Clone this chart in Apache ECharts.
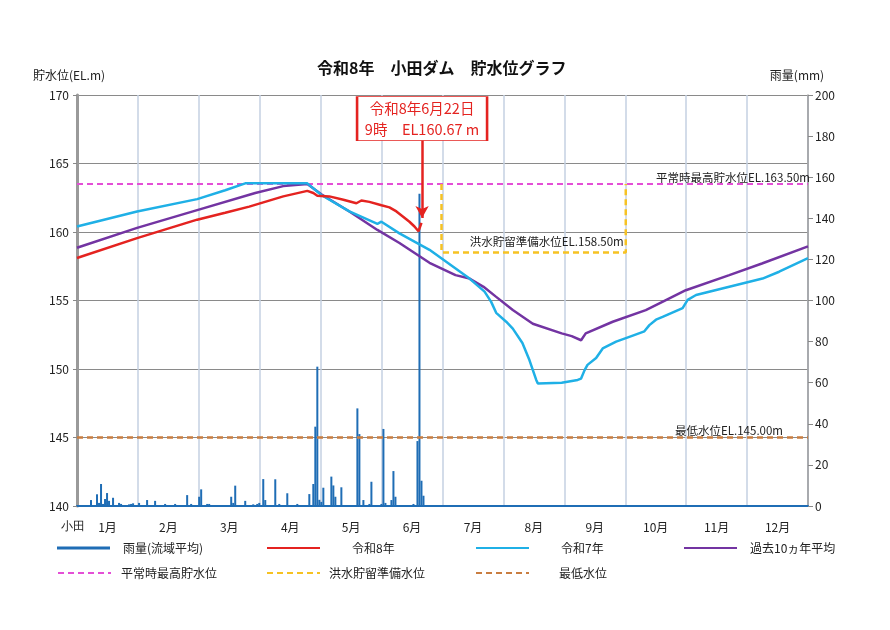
<!DOCTYPE html>
<html><head><meta charset="utf-8">
<script src="https://cdn.jsdelivr.net/npm/echarts@6/dist/echarts.min.js"></script>
<style>html,body{margin:0;padding:0;background:#fff}#c{width:890px;height:630px}</style>
</head><body><div id="c"></div>
<script>
const FONT = '"Noto Sans CJK JP", "Noto Sans", sans-serif';
const months = ['1月','2月','3月','4月','5月','6月','7月','8月','9月','10月','11月','12月'];

// rain (basin average, mm) by day of year
const rainDays = [7,10,11,12,13,14,15,16,18,21,22,26,27,28,31,35,39,44,49,55,57,61,62,65,66,77,78,79,84,88,90,91,93,94,99,101,105,110,116,118,119,120,121,122,123,127,128,129,132,140,141,143,146,147,152,153,154,157,158,159,168,170,171,172,173];
const rainMm   = [2.9,5.7,1.5,10.7,1,3.4,6.3,2.5,4,1.5,1,0.8,1,1.3,1.5,2.9,2.5,1,1,5.3,1,4.5,8.1,1,1,4.5,1.5,9.9,2.5,0.8,1,1.5,13.1,2.9,13,1,6.2,1,5.8,10.7,38.6,67.8,3,2,8.9,14.3,10,4.5,9.1,47.5,35,2.9,1,11.8,1,37.5,1.5,2.9,17,4.5,1,31.6,152,12.3,5];

// 令和8年
const r8Days  = [0,30,60,74,86,103,115,118,120,126,133,139.5,142,146,152,156,159.5,163,166,168.5,170.5,172];
const r8Level = [158.1,159.55,160.9,161.4,161.85,162.6,163.0,162.85,162.65,162.6,162.35,162.1,162.3,162.2,161.95,161.8,161.5,161.1,160.75,160.4,160.05,160.67];

// 令和7年
const r7Days  = [0,30,60,74,84,115,122,136,150,152,161,176,196,203.5,206.8,209.3,214.3,217.6,222.4,225.9,229.3,230.1,242,250,251.7,253.4,254.9,259.2,262.5,269.2,275.8,283.3,285.8,289.1,292.4,302.4,304.9,309.1,325.7,342.3,350.6,365];
const r7Level = [160.4,161.5,162.4,163.05,163.55,163.55,162.7,161.5,160.6,160.75,159.9,158.7,156.6,155.65,154.9,154.1,153.45,152.95,151.9,150.65,149.2,148.95,149.0,149.2,149.3,149.9,150.3,150.8,151.5,152.0,152.35,152.75,153.2,153.6,153.8,154.45,155.05,155.4,156.0,156.6,157.1,158.1];

// 過去10ヵ年平均
const avgDays  = [0,30,60,89,103,115,122,136,150,161,176,189,196,203,209,217.6,227.6,242,247,251.7,254,267.5,284,292.3,304,325.7,342,365];
const avgLevel = [158.85,160.3,161.6,162.85,163.35,163.5,162.75,161.5,160.15,159.2,157.75,156.85,156.6,156.0,155.3,154.3,153.3,152.6,152.4,152.1,152.6,153.45,154.3,154.9,155.75,156.85,157.7,158.95];

// reference levels
const normalMaxDays = [0,365],  normalMaxLevel = [163.5,163.5];
const floodDays = [182,182,274,274], floodLevel = [163.5,158.5,158.5,163.5];
const minDays = [0,365], minLevel = [145,145];

// annotation
const annoDay = 172.3, annoLevel = 160.67;
const annoText = '令和8年6月22日\n9時　EL160.67 m';

const RED='#e42320', CYAN='#1fb0e6', PURPLE='#7334a2', BLUE='#1f6db5', MAG='#e44fd6', YEL='#f6c223', BRN='#c97d40';
const pairs = (xs, ys) => xs.map((x,i)=>[x, ys[i]]);

const legendDefs = [
  {name:'雨量(流域平均)', left:57,  cy:550, gap:13, rain:true},
  {name:'令和8年',        left:266, cy:550, gap:32},
  {name:'令和7年',        left:475, cy:550, gap:32},
  {name:'過去10ヵ年平均', left:683, cy:550, gap:13},
  {name:'平常時最高貯水位', left:57,  cy:575, gap:10},
  {name:'洪水貯留準備水位', left:266, cy:575, gap:9},
  {name:'最低水位',        left:475, cy:575, gap:30}
];

const lineLabel = (txt, dist, off) => ({show:true, position:'top', align:'right', distance:dist, offset:off||[0,0],
  formatter: txt, color:'#222', fontSize:11.5, fontFamily:FONT});

function labeled(xs, ys, idx, lab){
  return pairs(xs, ys).map((p,i)=> i===idx ? {value:p, label:lab} : {value:p});
}

const refSeries = (name, color, xs, ys, idx, lab, w) => ({
  name, type:'line', xAxisIndex:0, yAxisIndex:0,
  symbol:'circle', symbolSize:0.01, showSymbol:true,
  itemStyle:{color:'rgba(0,0,0,0)'}, lineStyle:{color, width:w, type:[6,4]},
  label:{show:false}, emphasis:{disabled:true},
  data:labeled(xs, ys, idx, lab), z:3
});

function makeLegend(d){
  const l = {
    data:[d.name], left:d.left, top:d.cy-8, selectedMode:false,
    itemWidth:53, itemHeight:14, padding:0,
    textStyle:{fontSize:12, color:'#222', fontFamily:FONT, padding:[0,0,0,d.gap-5]}
  };
  if (d.rain) { l.icon = 'rect'; l.itemHeight = 3; l.itemStyle = {color:BLUE}; }
  else { l.itemStyle = {color:'rgba(0,0,0,0)', borderWidth:0, opacity:0}; }
  return l;
}

const option = {
  backgroundColor:'#fff',
  animation:false,
  textStyle:{fontFamily:FONT},
  title:{text:'令和8年　小田ダム　貯水位グラフ', left:312, top:55,
    textStyle:{fontSize:16, fontWeight:'bold', color:'#111', fontFamily:FONT}},
  graphic:[{type:'text', left:61, top:521, style:{text:'小田', fontSize:12, fill:'#222', font:'12px '+FONT}}],
  legend: legendDefs.map(makeLegend),
  grid:{left:77, right:82, top:95, bottom:124},
  xAxis:[
    {type:'value', min:0, max:365, show:false},
    {type:'category', data:months, position:'bottom', boundaryGap:true,
     axisLine:{show:true, lineStyle:{color:BLUE, width:2}}, axisTick:{show:false},
     axisLabel:{color:'#222', fontSize:12, margin:15, fontFamily:FONT},
     splitLine:{show:true, lineStyle:{color:'#c5d1e2', width:1.5}}}
  ],
  yAxis:[
    {type:'value', min:140, max:170, interval:5, position:'left',
     name:'貯水位(EL.m)', nameLocation:'end', nameGap:14,
     nameTextStyle:{color:'#222', fontSize:12, align:'center', padding:[0,16,0,0], fontFamily:FONT},
     axisLine:{show:true, lineStyle:{color:'#9a9a9a', width:3}},
     axisTick:{show:true, length:4, lineStyle:{color:'#888'}},
     axisLabel:{color:'#222', fontSize:12, margin:8, fontFamily:FONT},
     splitLine:{show:true, lineStyle:{color:'#8a8a8a', width:1}}},
    {type:'value', min:0, max:200, interval:20, position:'right',
     name:'雨量(mm)', nameLocation:'end', nameGap:14,
     nameTextStyle:{color:'#222', fontSize:12, align:'center', padding:[0,22,0,0], fontFamily:FONT},
     axisLine:{show:true, lineStyle:{color:'#9a9a9a', width:1.5}},
     axisTick:{show:true, length:5, lineStyle:{color:'#888'}},
     axisLabel:{color:'#222', fontSize:12, margin:7, fontFamily:FONT},
     splitLine:{show:false}}
  ],
  series:[
    {name:'雨量(流域平均)', type:'bar', xAxisIndex:0, yAxisIndex:1, barWidth:2,
     itemStyle:{color:BLUE}, data:pairs(rainDays, rainMm), z:2},
    refSeries('平常時最高貯水位', MAG, normalMaxDays, normalMaxLevel, 1, lineLabel('平常時最高貯水位EL.163.50m', 1, [2,0]), 2),
    refSeries('洪水貯留準備水位', YEL, floodDays, floodLevel, 2, lineLabel('洪水貯留準備水位EL.158.50m', 5, [-2,0]), 2.5),
    refSeries('最低水位', BRN, minDays, minLevel, 1, lineLabel('最低水位EL.145.00m', 1, [-25,0]), 2.5),
    {name:'過去10ヵ年平均', type:'line', xAxisIndex:0, yAxisIndex:0, symbol:'none',
     lineStyle:{color:PURPLE, width:2.5}, itemStyle:{color:PURPLE}, data:pairs(avgDays, avgLevel), z:4},
    {name:'令和7年', type:'line', xAxisIndex:0, yAxisIndex:0, symbol:'none',
     lineStyle:{color:CYAN, width:2.5}, itemStyle:{color:CYAN}, data:pairs(r7Days, r7Level), z:5},
    {name:'令和8年', type:'line', xAxisIndex:0, yAxisIndex:0, symbol:'none',
     lineStyle:{color:RED, width:2.5}, itemStyle:{color:RED}, data:pairs(r8Days, r8Level), z:6,
     markLine:{silent:true, symbol:['none','arrow'], symbolSize:[10,12], animation:false,
       lineStyle:{color:RED, width:2.5, type:'solid'}, label:{show:false},
       data:[[{coord:[annoDay, 166.7]}, {coord:[annoDay, annoLevel+0.35]}]]},
     markPoint:{silent:true, animation:false,
       data:[{coord:[annoDay, 168.28], symbol:'rect', symbolSize:[130,44],
         itemStyle:{color:'#fff', borderColor:RED, borderWidth:1.5},
         label:{show:true, position:'inside', formatter:annoText, color:RED, fontSize:14.5, lineHeight:21, fontFamily:FONT}}]}}
  ]
};
const chart = echarts.init(document.getElementById('c'));
chart.setOption(option);
</script></body></html>
